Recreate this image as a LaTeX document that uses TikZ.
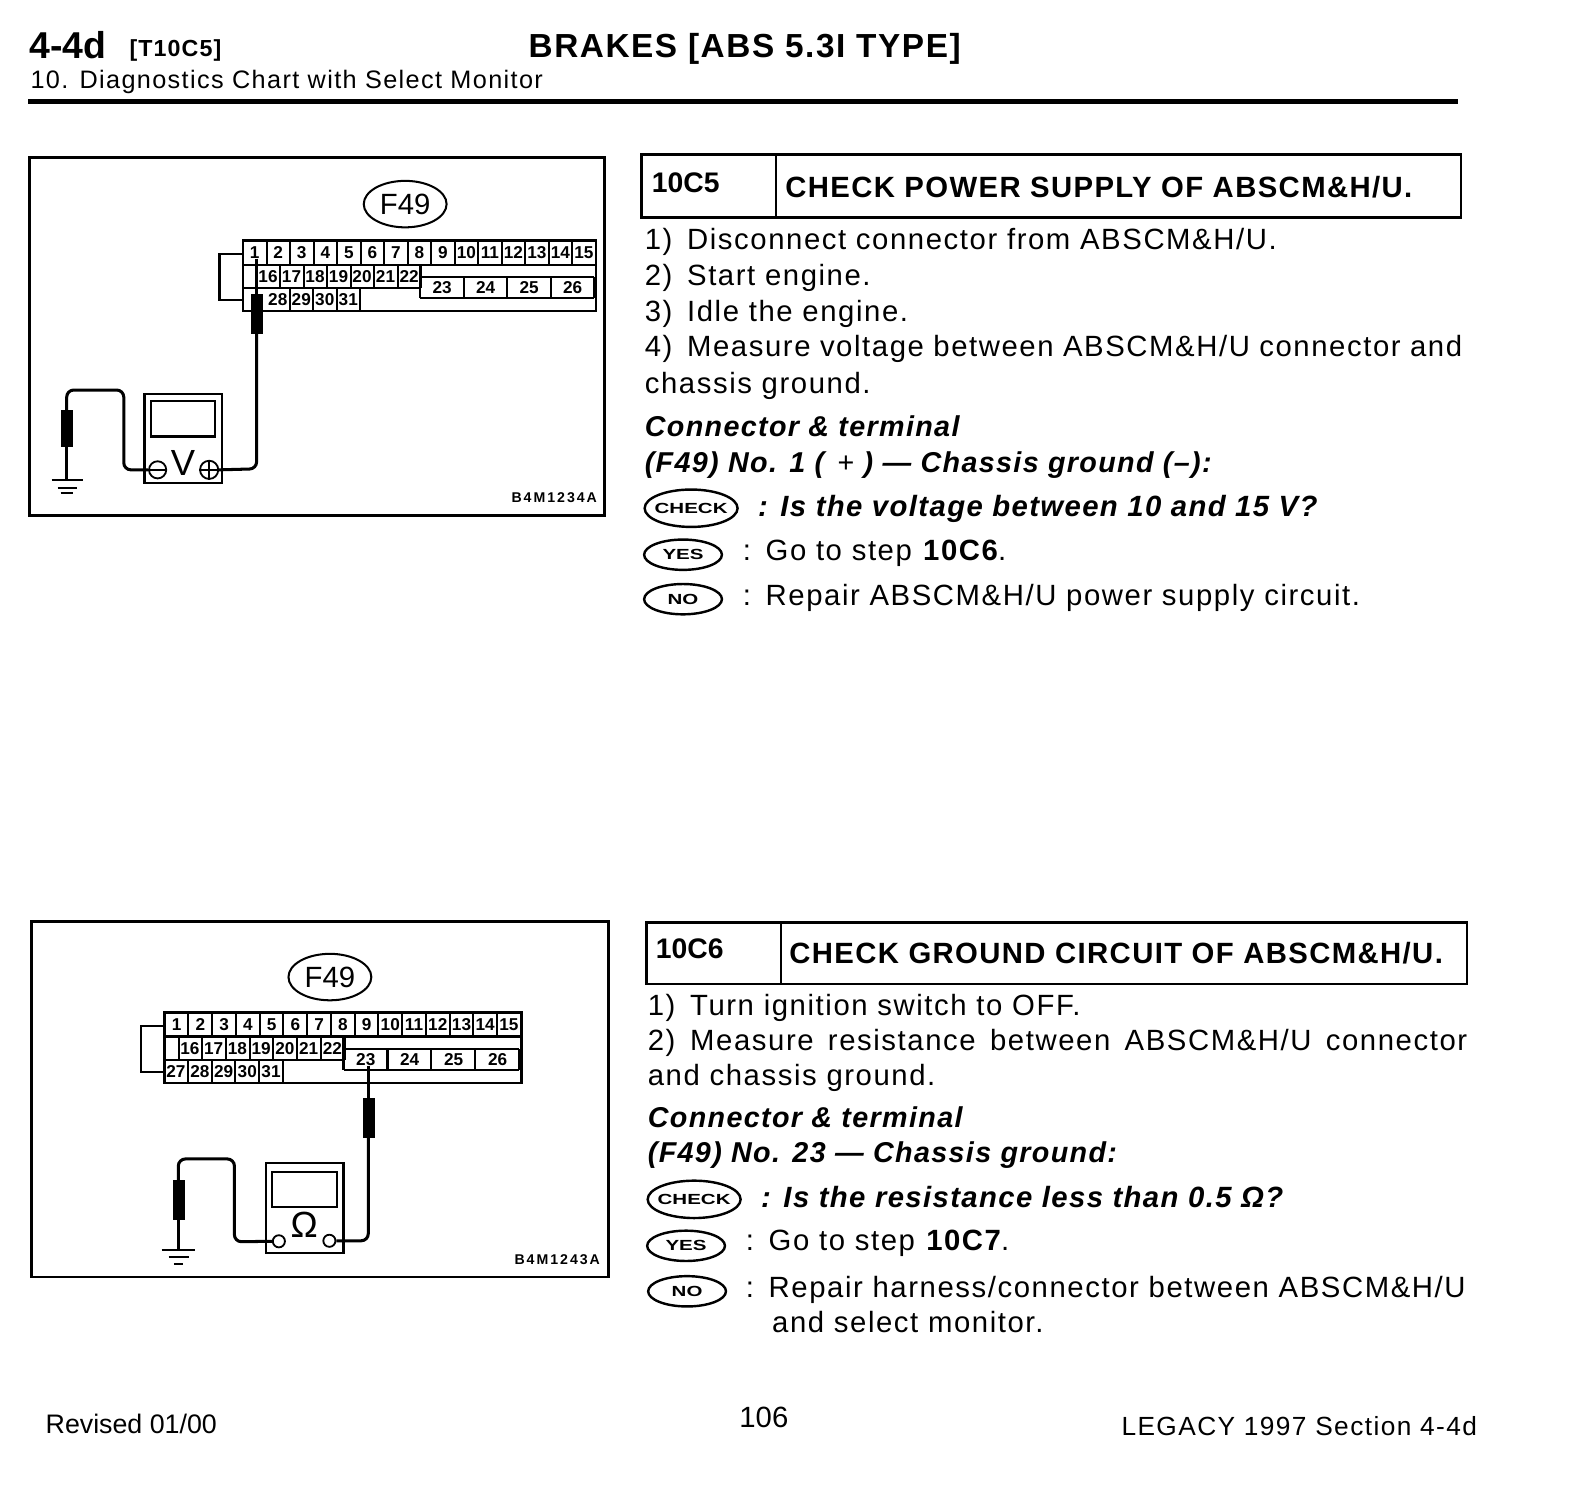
\documentclass[tikz,border=0pt]{standalone}
\usepackage{fontspec}
\setmainfont{Liberation Sans}
\usetikzlibrary{shapes.geometric}
\newfontfamily\bodyfont[LetterSpace=5.4]{Liberation Sans}
\newfontfamily\headfont[LetterSpace=4.7]{Liberation Sans}
\newfontfamily\pillfont[FakeStretch=1.4]{Liberation Sans}
\newfontfamily\codefont[LetterSpace=14]{Liberation Sans}
\tikzset{
	pagetext/.style={anchor=base west, inner sep=0pt, yshift=1pt, font=\bodyfont\fontsize{29}{35}\selectfont},
	boldtext/.style={pagetext, font=\headfont\bfseries\itshape\fontsize{29}{35}\selectfont},
	subhead/.style={pagetext, font=\headfont\bfseries\itshape\fontsize{28.4}{35}\selectfont},
	headtext/.style={pagetext, font=\headfont\bfseries\fontsize{29}{35}\selectfont},
	frameline/.style={line width=2.6pt},
	wire/.style={line width=3pt, rounded corners=7pt},
	terminal/.style={inner sep=0pt, font=\bfseries\fontsize{17}{17}\selectfont},
	refcode/.style={anchor=base east, inner sep=0pt, font=\codefont\bfseries\fontsize{14}{14}\selectfont},
	tag/.style={draw, ellipse, line width=2pt, inner sep=0pt, minimum width=82pt, minimum height=46pt, font=\fontsize{29}{29}\selectfont},
	pill/.style={draw, ellipse, line width=2.4pt, inner sep=0pt, minimum height=30pt, font=\pillfont\bfseries\fontsize{14.5}{14.5}\selectfont},
	probe/.style={draw, fill=black, inner sep=0pt, minimum width=11pt, minimum height=39pt},
	meter/.style={draw, line width=2.2pt, inner sep=0pt, minimum width=77pt, minimum height=89pt},
	screen/.style={draw, line width=2pt, inner sep=0pt, minimum width=64pt, minimum height=35pt},
	jack/.style={draw, circle, line width=1.8pt, inner sep=0pt},
}
\begin{document}
\begin{tikzpicture}[x=1pt,y=-1pt]
	\useasboundingbox (0,0) rectangle (1567.7,1472.7);
	%Page head
	\node[anchor=base west, inner sep=0pt, font=\bfseries\fontsize{37}{37}\selectfont] (chapter) at (29,58) {4-4d};
	\node[anchor=base west, inner sep=0pt, font=\headfont\bfseries\fontsize{23}{23}\selectfont] (section) at (128,56) {[T10C5]};
	\node[anchor=base west, inner sep=0pt, font=\headfont\bfseries\fontsize{33}{33}\selectfont] (title) at (523,57) {BRAKES [ABS 5.3I TYPE]};
	\node[anchor=base west, inner sep=0pt, font=\bodyfont\fontsize{25}{25}\selectfont] (subtitle) at (30,88) {10. Diagnostics Chart with Select Monitor};
	\draw[line width=5pt] (28,100) -- (1443,100);
	%Panels
	\draw[frameline] (29,156) rectangle (598,510);
	\draw[frameline] (31,912) rectangle (602,1264);
	\node[tag] (tagA) at (401,202) {F49};
	\node[tag] (tagB) at (326.5,967) {F49};
	%Connectors
	\foreach \s/\ox/\oy/\sx in {A/240.5/238/0.99, B/163/1002/1}
	{
		\begin{scope}[shift={(\ox,\oy)}, xscale=\sx]
			\draw[line width=2.4pt] (0,0) rectangle (353,70);
			\draw[line width=2.4pt] (0,24) -- (353,24);
			\draw[line width=2pt] (0,13) -- (-23.5,13) -- (-23.5,59) -- (0,59);
			\draw[line width=2.4pt] (0,47) -- (177,47);
			\draw[line width=2.4pt] (177,36) -- (351,36) (177,57) -- (351,57) (177,24) -- (177,57);
			\draw[line width=2pt] (14,24) -- (14,47);
			%Row one
			\foreach \n in {1,...,15}
			{
				\node[terminal] (\s\n) at (\n*23.5-11.75,12) {\n};
				\draw[line width=2pt] (\n*23.5,0) -- (\n*23.5,24);
			}
			%Row two
			\foreach \n in {16,...,22}
			{
				\node[terminal] (\s\n) at (\n*23.5-351,35.5) {\n};
				\draw[line width=2pt] (\n*23.5-339,24) -- (\n*23.5-339,47);
			}
			%Row three
			\foreach \n in {28,...,31}
			{
				\node[terminal] (\s\n) at (\n*23.5-623.25,58.5) {\n};
				\draw[line width=2pt] (\n*23.5-611.5,47) -- (\n*23.5-611.5,70);
			}
			%Large cells
			\foreach \n/\c in {23/0,24/1,25/2,26/3}
			{
				\node[terminal] (\s\n) at (\c*43.5+199,46.5) {\n};
				\draw[line width=2pt] (\c*43.5+220.5,36) -- (\c*43.5+220.5,57);
			}
		\end{scope}
	}
	\node[terminal] (B27) at (174,1060.5) {27};
	\draw[line width=2pt] (186,1049) -- (186,1072);
	%Volt meter
	\node[meter, minimum height=88pt] (meterA) at (181.5,434) {};
	\node[screen] (screenA) at (181,414.5) {};
	\node[inner sep=0pt, font=\fontsize{36}{36}\selectfont] (unitA) at (181,458) {V};
	\node[jack, minimum size=17pt] (minusA) at (156,465) {};
	\node[jack, minimum size=18pt] (plusA) at (207,465) {};
	\draw[line width=1.8pt] (minusA.west) -- (minusA.east);
	\draw[line width=1.8pt] (plusA.west) -- (plusA.east) (plusA.north) -- (plusA.south);
	\node[probe] (probeA) at (254,310.5) {};
	\node[probe, minimum height=36pt] (leadA) at (66,424) {};
	\coordinate (earthA) at (66,475);
	\draw[line width=2.6pt] (A1.south -| probeA) -- (probeA.north);
	\draw[wire] (probeA.south) -- (254,464) -- (plusA.east);
	\draw[wire] (minusA.west) -- (122.5,465) -- (122.5,386) -- (66,386) -- (leadA.north);
	\draw[line width=2.6pt] (leadA.south) -- (earthA);
	\draw[line width=2.6pt] (51,475) -- (82,475);
	\draw[line width=2.2pt] (57,483) -- (76,483);
	\draw[line width=2.2pt] (60,488) -- (72,488);
	\node[refcode] (codeA) at (591,497) {B4M1234A};
	%Ohm meter
	\node[meter] (meterB) at (301.5,1195.5) {};
	\node[screen, minimum width=65pt] (screenB) at (301.5,1177) {};
	\node[inner sep=0pt, font=\fontsize{36}{36}\selectfont] (unitB) at (301,1212) {Ω};
	\node[jack, minimum size=12pt] (minusB) at (276,1228.5) {};
	\node[jack, minimum size=12pt] (plusB) at (326,1228) {};
	\node[probe] (probeB) at (364.5,1106) {};
	\node[probe, minimum height=39pt] (leadB) at (176.5,1187.5) {};
	\coordinate (earthB) at (176.5,1237);
	\draw[line width=2.6pt] (B23.south -| probeB) -- (probeB.north);
	\draw[wire] (probeB.south) -- (364.5,1228) -- (plusB.east);
	\draw[wire] (minusB.west) -- (232,1229) -- (232,1147) -- (176.5,1147) -- (leadB.north);
	\draw[line width=2.6pt] (leadB.south) -- (earthB);
	\draw[line width=2.6pt] (160,1237) -- (193,1237);
	\draw[line width=2.2pt] (167,1244) -- (187,1244);
	\draw[line width=2.2pt] (172,1251) -- (181,1251);
	\node[refcode] (codeB) at (594,1251) {B4M1243A};
	%Step one
	\draw[frameline] (635,153) rectangle (1446,215);
	\draw[frameline] (768,153) -- (768,215);
	\node[headtext, font=\bfseries\fontsize{28}{28}\selectfont] (stepA) at (645,192) {10C5};
	\node[headtext] (headA) at (777,196) {CHECK POWER SUPPLY OF ABSCM\&H/U.};
	\node[pagetext] (a1) at (638,248) {1)\enspace Disconnect connector from ABSCM\&H/U.};
	\node[pagetext] (a2) at (638,284) {2)\enspace Start engine.};
	\node[pagetext] (a3) at (638,319) {3)\enspace Idle the engine.};
	\node[pagetext] (a4) at (638,354) {\makebox[809pt][s]{4)\enspace Measure voltage between ABSCM\&H/U connector and}};
	\node[pagetext] (a5) at (638,390) {chassis ground.};
	\node[subhead] (a6) at (638,433) {Connector \& terminal};
	\node[subhead] (a7) at (638,469) {(F49) No. 1 ( \textmd{\textup{+}} ) — Chassis ground (–):};
	\node[pill, minimum width=92pt, minimum height=37pt] (checkA) at (684,503) {\makebox[0pt]{CHECK}};
	\node[boldtext] (a8) at (750,512) {: Is the voltage between 10 and 15 V?};
	\node[pill, minimum width=77pt] (yesA) at (676,549) {YES};
	\node[pagetext] (a9) at (735,556) {:\enspace Go to step \textbf{10C6}.};
	\node[pill, minimum width=77pt] (noA) at (676,593) {NO};
	\node[pagetext] (a10) at (735,600) {:\enspace Repair ABSCM\&H/U power supply circuit.};
	%Step two
	\draw[frameline] (640,913) rectangle (1452,974);
	\draw[frameline] (773,913) -- (773,974);
	\node[headtext, font=\bfseries\fontsize{28}{28}\selectfont] (stepB) at (649,950) {10C6};
	\node[headtext] (headB) at (781,955) {CHECK GROUND CIRCUIT OF ABSCM\&H/U.};
	\node[pagetext] (b1) at (641,1006) {1)\enspace Turn ignition switch to OFF.};
	\node[pagetext] (b2) at (641,1041) {\makebox[811pt][s]{2)\enspace Measure resistance between ABSCM\&H/U connector}};
	\node[pagetext] (b3) at (641,1075) {and chassis ground.};
	\node[subhead] (b4) at (641,1117) {Connector \& terminal};
	\node[subhead] (b5) at (641,1152) {(F49) No. 23 — Chassis ground:};
	\node[pill, minimum width=92pt, minimum height=37pt] (checkB) at (687,1187) {\makebox[0pt]{CHECK}};
	\node[boldtext] (b6) at (753,1196) {: Is the resistance less than 0.5 Ω?};
	\node[pill, minimum width=77pt] (yesB) at (679,1233) {YES};
	\node[pagetext] (b7) at (738,1239) {:\enspace Go to step \textbf{10C7}.};
	\node[pill, minimum width=77pt] (noB) at (680,1278) {NO};
	\node[pagetext] (b8) at (738,1285) {:\enspace Repair harness/connector between ABSCM\&H/U};
	\node[pagetext] (b9) at (764,1320) {and select monitor.};
	%Page foot
	\node[anchor=base west, inner sep=0pt, font=\fontsize{26.5}{26.5}\selectfont] (revised) at (45,1419) {Revised 01/00};
	\node[inner sep=0pt, font=\fontsize{29}{29}\selectfont] (pageno) at (756,1403) {106};
	\node[anchor=base east, inner sep=0pt, font=\bodyfont\fontsize{26}{26}\selectfont] (legacy) at (1462,1421) {LEGACY 1997 Section 4-4d};
\end{tikzpicture}
\end{document}
